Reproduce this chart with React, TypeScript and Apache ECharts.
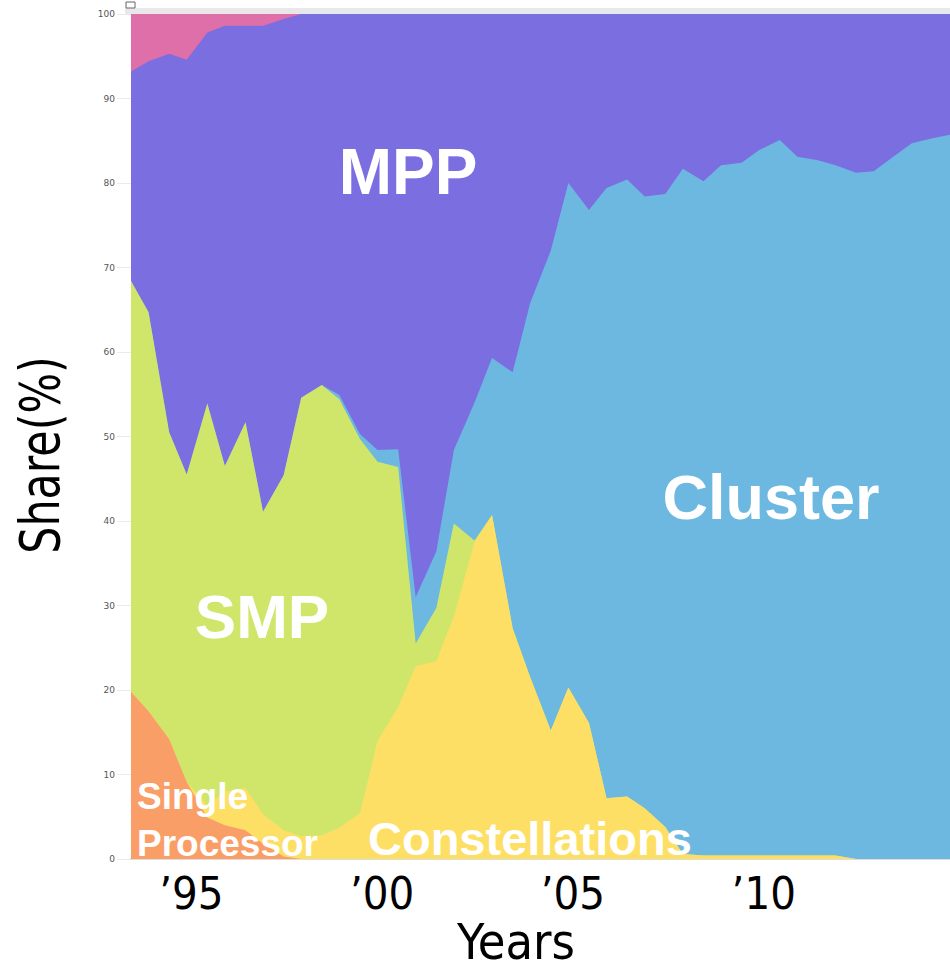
import React, { useEffect, useRef } from "react";
import * as echarts from "echarts";

// TOP500 list dates (June / November of each year), decimal years
const listDates = [
  1993.42, 1993.88, 1994.42, 1994.88, 1995.42, 1995.88, 1996.42, 1996.88,
  1997.42, 1997.88, 1998.42, 1998.88, 1999.42, 1999.88, 2000.42, 2000.88,
  2001.42, 2001.88, 2002.42, 2002.88, 2003.42, 2003.88, 2004.42, 2004.88,
  2005.42, 2005.88, 2006.42, 2006.88, 2007.42, 2007.88, 2008.42, 2008.88,
  2009.42, 2009.88, 2010.42, 2010.88, 2011.42, 2011.88, 2012.42, 2012.88,
  2013.42, 2013.88, 2014.42, 2014.88,
];

const singleProcessor = [
  19.8, 17.5, 14.2, 9.1, 4.9, 4.0, 3.4, 1.8, 0.3, 0, 0, 0, 0, 0, 0, 0,
  0, 0, 0, 0, 0, 0, 0, 0, 0, 0, 0, 0, 0, 0, 0, 0, 0, 0, 0, 0, 0, 0, 0, 0,
  0, 0, 0, 0,
];
const constellations = [
  0, 0, 0, 0, 1.5, 4.0, 5.0, 3.5, 3.1, 2.7, 2.8, 3.7, 5.4, 14.0, 18.0, 22.8,
  23.4, 28.7, 37.5, 40.7, 27.3, 21.5, 15.2, 20.3, 16.1, 7.2, 7.4, 6.0, 3.8, 0.6,
  0.4, 0.4, 0.4, 0.4, 0.4, 0.4, 0.4, 0.4, 0, 0, 0, 0, 0, 0,
];
const smp = [
  48.6, 47.2, 36.3, 36.4, 47.5, 38.5, 43.3, 35.8, 42.0, 51.9, 53.3, 50.7, 44.3,
  33.0, 28.4, 2.7, 6.3, 11.0, 0.2, 0, 0, 0, 0, 0, 0, 0, 0, 0, 0, 0, 0, 0, 0, 0,
  0, 0, 0, 0, 0, 0, 0, 0, 0, 0,
];
const cluster = [
  0, 0, 0, 0, 0, 0, 0, 0, 0, 0, 0, 0.5, 0.6, 1.4, 2.1, 5.5, 6.7, 8.7, 16.3,
  18.6, 30.3, 44.3, 56.8, 59.7, 60.7, 72.2, 73.0, 72.4, 74.9, 81.1, 79.8, 81.7,
  82.0, 83.5, 84.7, 82.7, 82.3, 81.7, 81.2, 81.4, 83.2, 84.7, 85.3, 85.7,
];
const mpp = [
  24.8, 29.7, 44.8, 49.1, 43.9, 52.1, 46.9, 57.5, 54.0, 45.4, 43.9, 45.1, 49.7,
  51.6, 51.5, 69.0, 63.6, 51.6, 46.0, 40.7, 42.4, 34.2, 28.0, 20.0, 23.2, 20.6,
  19.6, 21.6, 21.3, 18.3, 19.8, 17.9, 17.6, 16.1, 14.9, 16.9, 17.3, 17.9, 18.8,
  18.6, 16.8, 15.3, 14.7, 14.3,
];
const simd = [
  6.8, 5.6, 4.7, 5.4, 2.2, 1.4, 1.4, 1.4, 0.6, 0, 0, 0, 0, 0, 0, 0, 0, 0, 0, 0,
  0, 0, 0, 0, 0, 0, 0, 0, 0, 0, 0, 0, 0, 0, 0, 0, 0, 0, 0, 0, 0, 0, 0, 0,
];

const yearTicks = [1995, 2000, 2005, 2010];

// bottom-to-top stacking order
const seriesDefs = [
  { name: "Single Processor", values: singleProcessor, color: "#FA9E68" },
  { name: "Constellations", values: constellations, color: "#FDDF65" },
  { name: "SMP", values: smp, color: "#D0E66B" },
  { name: "Cluster", values: cluster, color: "#6CB8E0" },
  { name: "MPP", values: mpp, color: "#7B6EE1" },
  { name: "SIMD", values: simd, color: "#DF6FA8" },
];

const NARROW = '"Liberation Sans Narrow", "DejaVu Sans Condensed", "Arial Narrow", sans-serif';
const BOLD = '"Liberation Sans", Arial, sans-serif';

export default function App() {
  const ref = useRef<HTMLDivElement>(null);

  useEffect(() => {
    if (!ref.current) return;
    const chart = echarts.init(ref.current, undefined, { renderer: "svg" });

    // cumulative tops of each layer
    const running = listDates.map(() => 0);
    const layers = seriesDefs.map((s) => {
      const tops = s.values.map((v, i) => {
        running[i] += v;
        return Math.round(running[i] * 100) / 100;
      });
      return { ...s, tops };
    });

    // draw top layer first so lower layers paint over it
    const series = layers
      .slice()
      .reverse()
      .map((s) => ({
        name: s.name,
        type: "line",
        symbol: "none",
        lineStyle: { width: 0 },
        areaStyle: { color: s.color, opacity: 1 },
        itemStyle: { color: s.color },
        data: listDates.map((d, i) => [d, s.tops[i]]),
      }));

    chart.setOption({
      animation: false,
      backgroundColor: "#ffffff",
      grid: { left: 131, right: 0, top: 14, bottom: 111, containLabel: false },
      xAxis: {
        type: "value",
        min: listDates[0],
        max: listDates[listDates.length - 1],
        axisLine: { show: true, lineStyle: { color: "#dddddd", width: 2 } },
        axisTick: { show: false, customValues: yearTicks },
        axisLabel: {
          customValues: yearTicks,
          formatter: (v: number) => "\u2019" + String(Math.round(v)).slice(2),
          fontFamily: NARROW,
          fontSize: 45,
          lineHeight: 40,
          color: "#000000",
          margin: 14,
        },
        splitLine: {
          show: true,
          lineStyle: { color: "rgba(0,0,0,0.05)", width: 2 },
        },
      },
      yAxis: {
        type: "value",
        min: 0,
        max: 100,
        interval: 10,
        axisLine: { show: false },
        axisTick: { show: true, length: 14, lineStyle: { color: "rgba(0,0,0,0.08)" } },
        axisLabel: {
          fontFamily: '"DejaVu Sans", sans-serif',
          fontSize: 9,
          color: "#555555",
          margin: 16,
        },
        splitLine: { show: true, lineStyle: { color: "rgba(0,0,0,0.06)", width: 1 } },
      },
      series,
      graphic: [
        { type: "rect", shape: { x: 125, y: 8, width: 825, height: 6 }, style: { fill: "#e8e8ea" }, z: 100 },
        { type: "rect", shape: { x: 126, y: 2, width: 9, height: 6 }, style: { fill: "none", stroke: "#666", lineWidth: 1 }, z: 100 },
        {
          type: "text", x: 408, y: 172, z: 100,
          style: { text: "MPP", font: `bold 64px ${BOLD}`, fill: "#ffffff", align: "center", verticalAlign: "middle" },
        },
        {
          type: "text", x: 771, y: 497, z: 100,
          style: { text: "Cluster", font: `bold 63px ${BOLD}`, fill: "#ffffff", align: "center", verticalAlign: "middle" },
        },
        {
          type: "text", x: 262, y: 616, z: 100,
          style: { text: "SMP", font: `bold 62px ${BOLD}`, fill: "#ffffff", align: "center", verticalAlign: "middle" },
        },
        {
          type: "text", x: 137, y: 796, z: 100,
          style: { text: "Single", font: `bold 37px ${BOLD}`, fill: "#ffffff", align: "left", verticalAlign: "middle" },
        },
        {
          type: "text", x: 137, y: 843, z: 100,
          style: { text: "Processor", font: `bold 37px ${BOLD}`, fill: "#ffffff", align: "left", verticalAlign: "middle" },
        },
        {
          type: "text", x: 368, y: 838, z: 100,
          style: { text: "Constellations", font: `bold 47px ${BOLD}`, fill: "#ffffff", align: "left", verticalAlign: "middle" },
        },
        {
          type: "text", x: 516, y: 942, z: 100,
          style: { text: "Years", font: `50px ${NARROW}`, lineHeight: 44, fill: "#000000", align: "center", verticalAlign: "middle" },
        },
        {
          type: "text", x: 40, y: 455, rotation: Math.PI / 2, z: 100, scaleX: 0.85,
          style: { text: "Share(%)", font: `56px ${NARROW}`, fill: "#000000", align: "center", verticalAlign: "middle" },
        },
      ],
    });

    return () => chart.dispose();
  }, []);

  return (
    <div
      ref={ref}
      style={{ position: "absolute", left: 0, top: 0, width: 950, height: 970 }}
    />
  );
}
